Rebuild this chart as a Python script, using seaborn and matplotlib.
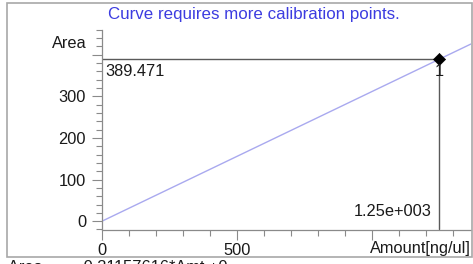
import matplotlib
matplotlib.use("Agg")
import matplotlib.pyplot as plt
import seaborn as sns
import pandas as pd
from matplotlib.patches import Rectangle
from matplotlib.ticker import MultipleLocator, FixedLocator, FixedFormatter

# ---- data ----
amount = [1250.0]          # calibration point amount [ng/ul]
area = [389.471]           # calibration point area
point_labels = ["1"]
x_limits = [0, 1367]
y_limits = [-20, 460]
x_major = [0, 500, 1000]
x_major_labels = ["0", "500", ""]
y_major = [0, 100, 200, 300, 400]
y_major_labels = ["0", "100", "200", "300", ""]
title_text = "Curve requires more calibration points."
footer_text = "Area =      0.31157616*Amt +0"

sns.set_style("white")
plt.rcParams['font.family'] = ['Liberation Sans', 'DejaVu Sans']

W, H = 473, 264
fig = plt.figure(figsize=(W / 100, H / 100), dpi=100)
fig.patch.set_facecolor("white")


def fx(px):
    return px / W


def fy(py):
    return 1 - py / H


ax = fig.add_axes([fx(102), fy(229.5), fx(471) - fx(102), fy(29.8) - fy(229.5)])

# outer frame
fig.patches.append(Rectangle((fx(7), fy(257)), fx(472) - fx(7), fy(3) - fy(257),
                             transform=fig.transFigure, fill=False,
                             ec="#a8a8a8", lw=1.2))

# calibration line through origin and the point
slope = area[0] / amount[0]
curve = pd.DataFrame({"x": x_limits, "y": [slope * v for v in x_limits]})
sns.lineplot(data=curve, x="x", y="y", ax=ax, color="#a9a9ef", lw=1.0)

# reference lines
ax.plot([x_limits[0], amount[0]], [area[0], area[0]], color="#5a5a5a", lw=1.0)
ax.plot([amount[0], amount[0]], [y_limits[0], area[0]], color="#5a5a5a", lw=1.0)

pts = pd.DataFrame({"amount": amount, "area": area})
sns.scatterplot(data=pts, x="amount", y="area", ax=ax, marker="D", s=38,
                color="black", edgecolor="black", zorder=5, clip_on=False)

ax.set_xlim(*x_limits)
ax.set_ylim(*y_limits)
ax.set_xlabel("")
ax.set_ylabel("")

ax.xaxis.set_major_locator(FixedLocator(x_major))
ax.xaxis.set_major_formatter(FixedFormatter(x_major_labels))
ax.xaxis.set_minor_locator(MultipleLocator(100))
ax.yaxis.set_major_locator(FixedLocator(y_major))
ax.yaxis.set_major_formatter(FixedFormatter(y_major_labels))
ax.yaxis.set_minor_locator(MultipleLocator(20))

ax.tick_params(axis="both", which="major", length=7, width=0.8, color="#8a8a8a",
               direction="out", pad=4.5, labelsize=11.8, labelcolor="#1a1a1a")
ax.tick_params(axis="x", which="major", pad=3.0)
ax.tick_params(axis="both", which="minor", length=4, width=0.8, color="#8a8a8a",
               direction="out")
ax.tick_params(axis="x", which="both", bottom=True)
ax.tick_params(axis="y", which="both", left=True)

sns.despine(ax=ax)
for s in ["left", "bottom"]:
    ax.spines[s].set_color("#8a8a8a")
    ax.spines[s].set_linewidth(0.9)

# texts
fig.text(fx(253.5), fy(14), title_text, ha="center", va="center",
         color="#3c3ce0", fontsize=12.2)
fig.text(fx(87), fy(43), "Area", ha="right", va="center", fontsize=11.8,
         color="#1a1a1a")
fig.text(fx(471), fy(248), "Amount[ng/ul]", ha="right", va="center",
         fontsize=11.8, color="#1a1a1a")
fig.text(fx(105), fy(72), f"{area[0]:.3f}", ha="left", va="center",
         fontsize=11.8, color="#1a1a1a")
fig.text(fx(432), fy(211), f"{amount[0]:.2e}".replace("e+03", "e+003"),
         ha="right", va="center", fontsize=11.8, color="#1a1a1a")
fig.text(fx(439), fy(72), point_labels[0], ha="center", va="center",
         fontsize=11.8, color="#1a1a1a")
fig.text(fx(8), fy(260), footer_text, ha="left", va="top",
         fontsize=11.8, color="#1a1a1a")

fig.savefig("out.png", dpi=100)
